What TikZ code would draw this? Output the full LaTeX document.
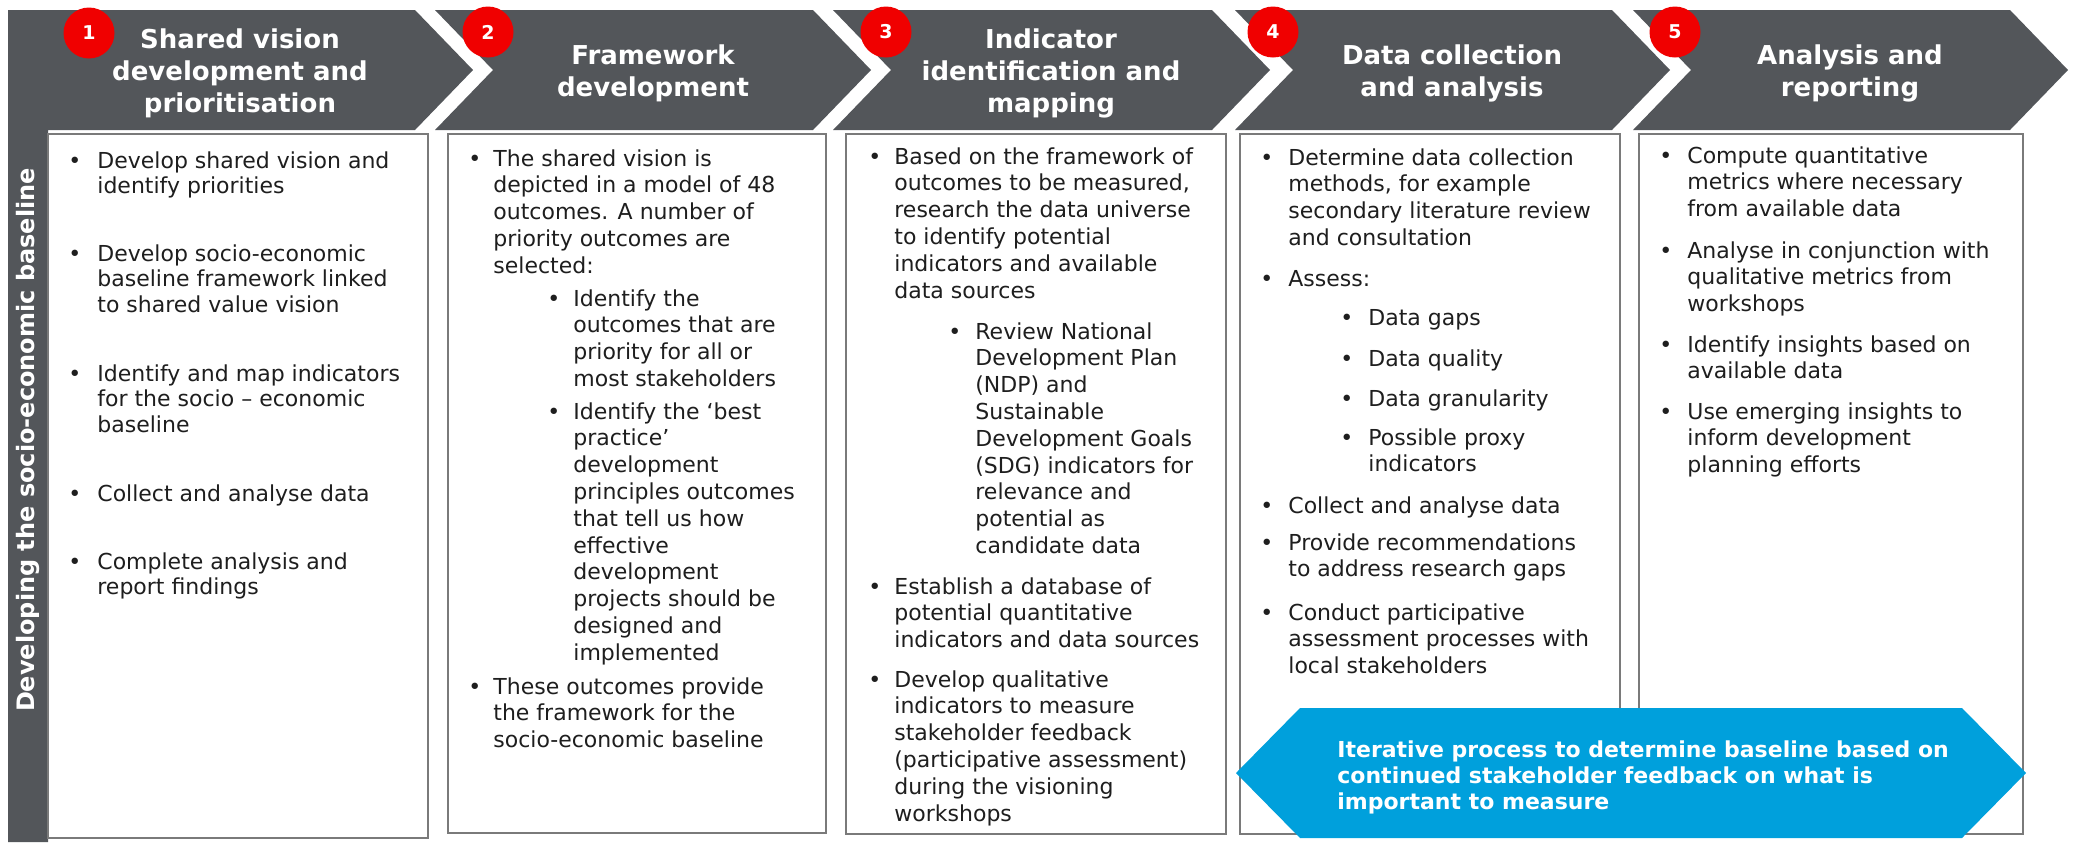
\documentclass[tikz,border=0pt]{standalone}
\usepackage{fontspec}
\setmainfont{DejaVu Sans}
\definecolor{chev}{HTML}{53565A}
\definecolor{rednum}{HTML}{F00000}
\definecolor{bluehex}{HTML}{00A0DC}
\definecolor{boxgray}{HTML}{7A7A7A}
\definecolor{bodytext}{HTML}{1E1E1E}
\newcommand{\tl}[2]{\vtop{\hsize=400pt\baselineskip=#1\parindent=0pt\raggedright\leavevmode #2}}
\tikzset{
  bodyfont/.style={font=\fontsize{11pt}{13.4pt}\selectfont, text=bodytext},
  bul/.style={anchor=base west, inner sep=0pt, bodyfont},
  body/.style={anchor=base west, inner sep=0pt, bodyfont},
  head/.style={align=center, text=white, inner sep=0pt, font=\fontsize{13pt}{16pt}\selectfont\bfseries},
  num/.style={circle, fill=rednum, minimum size=25.5pt, inner sep=0pt, text=white, font=\fontsize{9.5pt}{10pt}\selectfont\bfseries},
  panel/.style={draw=boxgray, line width=0.75pt, fill=white},
  chevfill/.style={fill=chev},
}
\newcommand{\bitem}[6]{% name, bullet x, text x, baseline y, skip, text
  \node[bul] (#1b) at (#2,#4) {\textbullet};
  \node[body] (#1) at (#3,#4) {\tl{#5}{#6}};
}
\begin{document}
\begin{tikzpicture}[x=0.5pt,y=-0.5pt]
\useasboundingbox (0,0) rectangle (2074,842);
\fill[white] (0,0) rectangle (2074,842);
% chevrons
\fill[chevfill] (8,10) -- (415,10) -- (473,70) -- (415,130) -- (48,130) -- (48,842) -- (8,842) -- cycle;
\fill[chevfill] (435,10) -- (813,10) -- (871,70) -- (813,130) -- (435,130) -- (493,70) -- cycle;
\fill[chevfill] (833,10) -- (1212,10) -- (1270,70) -- (1212,130) -- (833,130) -- (891,70) -- cycle;
\fill[chevfill] (1235,10) -- (1612,10) -- (1670,70) -- (1612,130) -- (1235,130) -- (1293,70) -- cycle;
\fill[chevfill] (1633,10) -- (2010,10) -- (2068,70) -- (2010,130) -- (1633,130) -- (1691,70) -- cycle;
% header texts
\node[head] (h1) at (240,73) {Shared vision\\development and\\prioritisation};
\node[head] (h2) at (653,73) {Framework\\development};
\node[head] (h3) at (1051,73) {Indicator\\identification and\\mapping};
\node[head] (h4) at (1452,73) {Data collection\\and analysis};
\node[head] (h5) at (1850,73) {Analysis and\\reporting};
% numbers
\node[num] (n1) at (89,33) {1};
\node[num] (n2) at (488,32) {2};
\node[num] (n3) at (886,32) {3};
\node[num] (n4) at (1273,32) {4};
\node[num] (n5) at (1675,32) {5};
% side title
\node[rotate=90, text=white, inner sep=0pt, font=\fontsize{12pt}{14pt}\selectfont\bfseries] (side) at (28,440) {Developing the socio-economic baseline};
% panels
\draw[panel] (48,134) rectangle (428,838);
\draw[panel] (448,134) rectangle (826,833);
\draw[panel] (846,134) rectangle (1226,834);
\draw[panel] (1240,134) rectangle (1620,834);
\draw[panel] (1639,134) rectangle (2023,834);
% box 1
\bitem{a1}{68}{97}{168}{12.9pt}{Develop shared vision and\\identify priorities}
\bitem{a2}{68}{97}{261}{12.9pt}{Develop socio-economic\\baseline framework linked\\to shared value vision}
\bitem{a3}{68}{97}{381}{12.9pt}{Identify and map indicators\\for the socio – economic\\baseline}
\bitem{a4}{68}{97}{501}{12.9pt}{Collect and analyse data}
\bitem{a5}{68}{97}{569}{12.9pt}{Complete analysis and\\report findings}
% box 2
\bitem{b1}{468}{493}{166}{13.4pt}{The shared vision is\\depicted in a model of 48\\outcomes. A number of\\priority outcomes are\\selected:}
\bitem{b2}{547}{573}{306}{13.4pt}{Identify the\\outcomes that are\\priority for all or\\most stakeholders}
\bitem{b3}{547}{573}{419}{13.4pt}{Identify the ‘best\\practice’\\development\\principles outcomes\\that tell us how\\effective\\development\\projects should be\\designed and\\implemented}
\bitem{b4}{468}{493}{694}{13.4pt}{These outcomes provide\\the framework for the\\socio-economic baseline}
% box 3
\bitem{c1}{868}{894}{164}{13.4pt}{Based on the framework of\\outcomes to be measured,\\research the data universe\\to identify potential\\indicators and available\\data sources}
\bitem{c2}{948}{975}{339}{13.4pt}{Review National\\Development Plan\\(NDP) and\\Sustainable\\Development Goals\\(SDG) indicators for\\relevance and\\potential as\\candidate data}
\bitem{c3}{868}{894}{594}{13.4pt}{Establish a database of\\potential quantitative\\indicators and data sources}
\bitem{c4}{868}{894}{687}{13.4pt}{Develop qualitative\\indicators to measure\\stakeholder feedback\\(participative assessment)\\during the visioning\\workshops}
% box 4
\bitem{d1}{1260}{1288}{165}{13.4pt}{Determine data collection\\methods, for example\\secondary literature review\\and consultation}
\bitem{d2}{1260}{1288}{286}{13.4pt}{Assess:}
\bitem{d3}{1340}{1368}{325}{13.4pt}{Data gaps}
\bitem{d4}{1340}{1368}{366}{13.4pt}{Data quality}
\bitem{d5}{1340}{1368}{406}{13.4pt}{Data granularity}
\bitem{d6}{1340}{1368}{445}{13.4pt}{Possible proxy\\indicators}
\bitem{d7}{1260}{1288}{513}{13.4pt}{Collect and analyse data}
\bitem{d8}{1260}{1288}{550}{13.4pt}{Provide recommendations\\to address research gaps}
\bitem{d9}{1260}{1288}{620}{13.4pt}{Conduct participative\\assessment processes with\\local stakeholders}
% box 5
\bitem{e1}{1659}{1687}{163}{13.4pt}{Compute quantitative\\metrics where necessary\\from available data}
\bitem{e2}{1659}{1687}{258}{13.4pt}{Analyse in conjunction with\\qualitative metrics from\\workshops}
\bitem{e3}{1659}{1687}{352}{13.4pt}{Identify insights based on\\available data}
\bitem{e4}{1659}{1687}{419}{13.4pt}{Use emerging insights to\\inform development\\planning efforts}
% hexagon
\fill[bluehex] (1236,773) -- (1300,708) -- (1962,708) -- (2026,773) -- (1962,838) -- (1300,838) -- cycle;
\node[anchor=base west, inner sep=0pt, text=white, font=\fontsize{11pt}{13pt}\selectfont\bfseries] (iter) at (1337,757) {\tl{13pt}{Iterative process to determine baseline based on\\continued stakeholder feedback on what is\\important to measure}};
\end{tikzpicture}
\end{document}
